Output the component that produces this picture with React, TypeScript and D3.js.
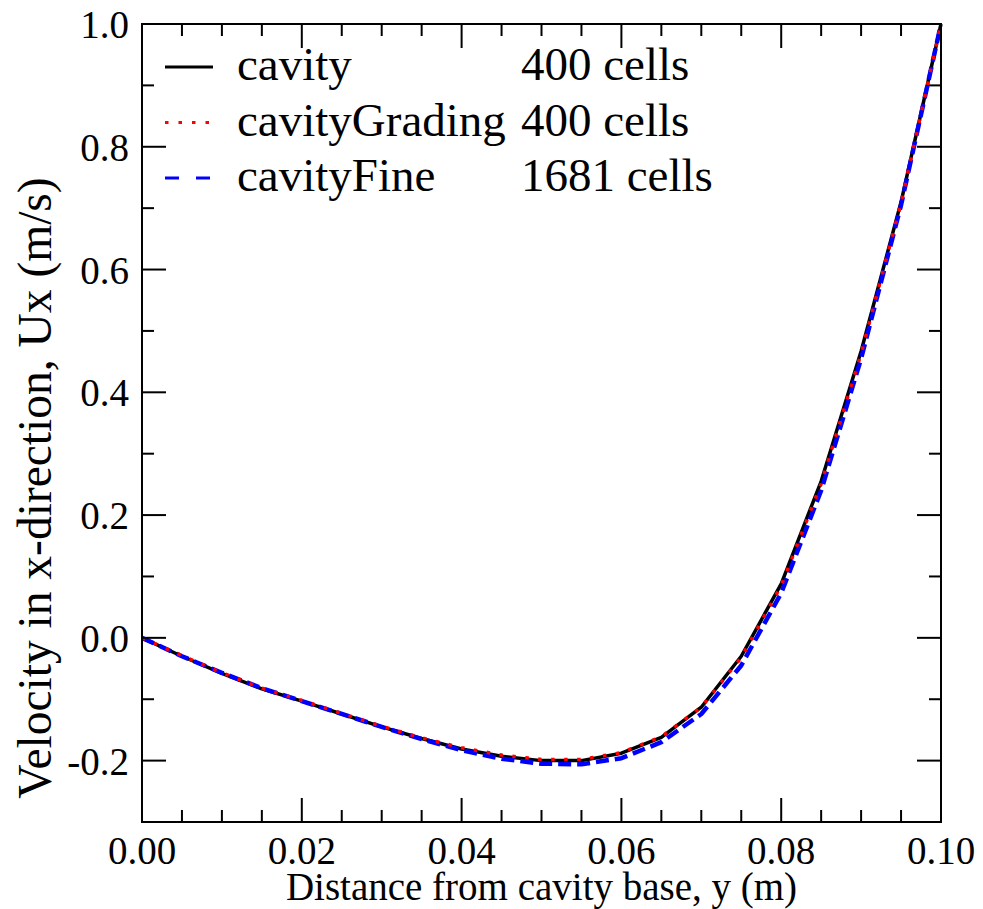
import React from "react";
import * as d3 from "d3";

// Sample positions along the vertical centre-line (m)
const yCavity = [0, 0.005, 0.01, 0.015, 0.02, 0.025, 0.03, 0.035, 0.04, 0.045, 0.05, 0.055, 0.06, 0.065, 0.07, 0.075, 0.08, 0.085, 0.09, 0.095, 0.1];
const uxCavity = [0, -0.03, -0.058, -0.083, -0.103, -0.124, -0.145, -0.164, -0.181, -0.193, -0.2, -0.2, -0.188, -0.162, -0.113, -0.03, 0.088, 0.255, 0.467, 0.71, 1.0];

const yGrading = [0, 0.005, 0.01, 0.015, 0.02, 0.025, 0.03, 0.035, 0.04, 0.045, 0.05, 0.055, 0.06, 0.065, 0.07, 0.075, 0.08, 0.085, 0.09, 0.095, 0.1];
const uxGrading = [0, -0.029, -0.057, -0.082, -0.102, -0.123, -0.144, -0.163, -0.179, -0.191, -0.198, -0.198, -0.187, -0.161, -0.113, -0.032, 0.085, 0.251, 0.463, 0.708, 1.0];

const yFine = [0, 0.005, 0.01, 0.015, 0.02, 0.025, 0.03, 0.035, 0.04, 0.045, 0.05, 0.055, 0.06, 0.065, 0.07, 0.075, 0.08, 0.085, 0.09, 0.095, 0.1];
const uxFine = [0, -0.03, -0.057, -0.082, -0.103, -0.124, -0.145, -0.165, -0.183, -0.197, -0.205, -0.206, -0.196, -0.17, -0.124, -0.045, 0.073, 0.24, 0.455, 0.705, 1.0];

const xTickLabels = ["0.00", "0.02", "0.04", "0.06", "0.08", "0.10"];
const yTickLabels = ["-0.2", "0.0", "0.2", "0.4", "0.6", "0.8", "1.0"];

const legendNames = ["cavity", "cavityGrading", "cavityFine"];
const legendCells = ["400 cells", "400 cells", "1681 cells"];

const W = 983;
const H = 909;
const left = 142;
const right = 941;
const top = 24;
const bottom = 822;
const FONT = "Liberation Serif, Times New Roman, serif";

export default function App() {
  const x = d3.scaleLinear().domain([0, 0.1]).range([left, right]);
  const y = d3.scaleLinear().domain([-0.3, 1.0]).range([bottom, top]);

  const line = d3
    .line<[number, number]>()
    .x((d) => x(d[0]))
    .y((d) => y(d[1]));

  const zip = (a: number[], b: number[]) => a.map((v, i) => [v, b[i]] as [number, number]);

  const xMajor = d3.range(0, 6).map((i) => i * 0.02);
  const xMinor = d3.range(0, 21).map((i) => i * 0.005).filter((_, i) => i % 4 !== 0);
  const yMajor = d3.range(0, 7).map((i) => -0.2 + i * 0.2);
  const yMinor = d3.range(0, 7).map((i) => -0.1 + i * 0.2);

  const majorLen = 24;
  const minorLen = 12;

  const series = [
    { d: zip(yCavity, uxCavity), color: "#000", dash: undefined as string | undefined, width: 3.5, legDash: undefined as string | undefined },
    { d: zip(yFine, uxFine), color: "#0000ff", dash: "13,6", width: 4.5, legDash: "14,17" },
    { d: zip(yGrading, uxGrading), color: "#ff0000", dash: "3.5,9.5", width: 3.5, legDash: "3.5,10" },
  ];
  const legendStyle = [series[0], series[2], series[1]];

  return (
    <svg width={W} height={H} style={{ position: "absolute", left: 0, top: 0, background: "#fff", fontFamily: FONT }}>
      <rect x={0} y={0} width={W} height={H} fill="#fff" />

      {/* curves */}
      {series.map((s, i) => (
        <path key={i} d={line(s.d) || ""} fill="none" stroke={s.color} strokeWidth={s.width} strokeDasharray={s.dash} strokeLinejoin="round" />
      ))}

      {/* ticks */}
      <g stroke="#000" strokeWidth={2}>
        {xMajor.map((v, i) => (
          <g key={"xm" + i}>
            <line x1={x(v)} x2={x(v)} y1={bottom} y2={bottom - majorLen} />
            <line x1={x(v)} x2={x(v)} y1={top} y2={top + majorLen} />
          </g>
        ))}
        {xMinor.map((v, i) => (
          <g key={"xn" + i}>
            <line x1={x(v)} x2={x(v)} y1={bottom} y2={bottom - minorLen} />
            <line x1={x(v)} x2={x(v)} y1={top} y2={top + minorLen} />
          </g>
        ))}
        {yMajor.map((v, i) => (
          <g key={"ym" + i}>
            <line x1={left} x2={left + majorLen} y1={y(v)} y2={y(v)} />
            <line x1={right} x2={right - majorLen} y1={y(v)} y2={y(v)} />
          </g>
        ))}
        {yMinor.map((v, i) => (
          <g key={"yn" + i}>
            <line x1={left} x2={left + minorLen} y1={y(v)} y2={y(v)} />
            <line x1={right} x2={right - minorLen} y1={y(v)} y2={y(v)} />
          </g>
        ))}
      </g>

      {/* frame */}
      <rect x={left} y={top} width={right - left} height={bottom - top} fill="none" stroke="#000" strokeWidth={2} />

      {/* tick labels */}
      {xMajor.map((v, i) => (
        <text key={"xl" + i} x={x(v)} y={864} fontSize={39} textAnchor="middle">
          {xTickLabels[i]}
        </text>
      ))}
      {yMajor.map((v, i) => (
        <text key={"yl" + i} x={129} y={y(v) + 14} fontSize={39} textAnchor="end">
          {yTickLabels[i]}
        </text>
      ))}

      {/* axis titles */}
      <text x={(left + right) / 2} y={900} fontSize={39} textAnchor="middle">
        Distance from cavity base, y (m)
      </text>
      <text transform={`translate(51,488) rotate(-90)`} fontSize={47.5} textAnchor="middle">
        Velocity in x-direction, Ux (m/s)
      </text>

      {/* legend */}
      {legendNames.map((name, i) => {
        const ly = 67 + i * 55.5;
        const s = legendStyle[i];
        return (
          <g key={"lg" + i}>
            <line x1={165} x2={213} y1={ly} y2={ly} stroke={s.color} strokeWidth={3} strokeDasharray={s.legDash} />
            <text x={237} y={ly + 13} fontSize={47}>
              {name}
            </text>
            <text x={521} y={ly + 13} fontSize={47}>
              {legendCells[i]}
            </text>
          </g>
        );
      })}
    </svg>
  );
}
